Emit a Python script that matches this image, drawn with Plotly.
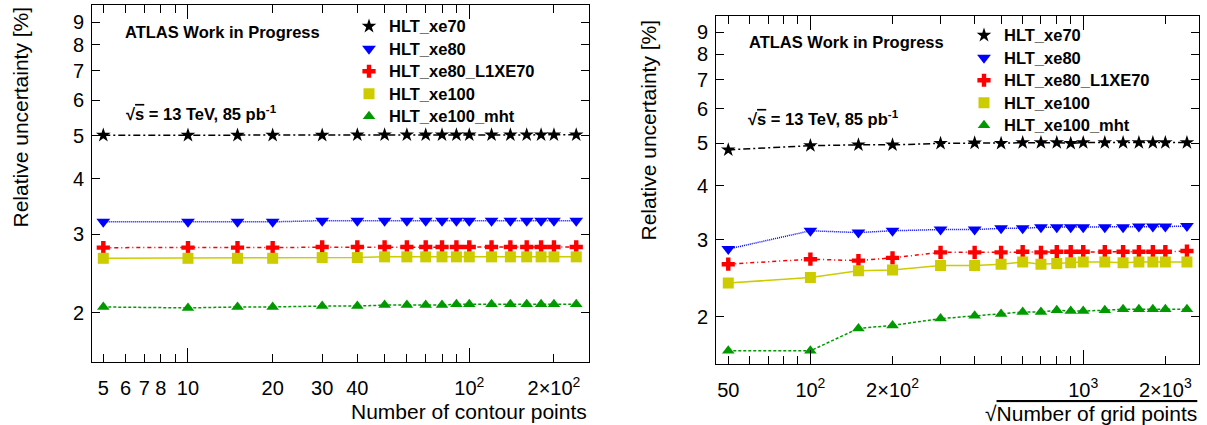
import plotly.graph_objects as go

W, H = 1207, 425
FONT = "Liberation Sans, Arial, Helvetica, sans-serif"

# ---------------- data ----------------
series_names = ["HLT_xe70", "HLT_xe80", "HLT_xe80_L1XE70", "HLT_xe100", "HLT_xe100_mht"]

left_x = [5, 10, 15, 20, 30, 40, 50, 60, 70, 80, 90, 100, 120, 140, 160, 180, 200, 240]
left_xe70 = [5.01, 5.01, 5.01, 5.01, 5.01, 5.02, 5.02, 5.02, 5.02, 5.02, 5.02, 5.02, 5.02, 5.02, 5.02, 5.02, 5.02, 5.02]
left_xe80 = [3.20, 3.20, 3.20, 3.20, 3.22, 3.22, 3.22, 3.22, 3.22, 3.22, 3.22, 3.22, 3.22, 3.22, 3.22, 3.22, 3.22, 3.22]
left_xe80_l1 = [2.80, 2.80, 2.80, 2.80, 2.81, 2.81, 2.81, 2.81, 2.81, 2.81, 2.81, 2.81, 2.81, 2.81, 2.81, 2.81, 2.81, 2.81]
left_xe100 = [2.65, 2.65, 2.65, 2.65, 2.66, 2.66, 2.67, 2.67, 2.67, 2.67, 2.67, 2.67, 2.67, 2.67, 2.67, 2.67, 2.67, 2.67]
left_xe100_mht = [2.06, 2.05, 2.06, 2.06, 2.07, 2.07, 2.08, 2.08, 2.08, 2.08, 2.09, 2.09, 2.09, 2.09, 2.09, 2.09, 2.09, 2.09]

right_x = [50, 100, 150, 200, 300, 400, 500, 600, 700, 800, 900, 1000, 1200, 1400, 1600, 1800, 2000, 2400]
right_xe70 = [4.83, 4.94, 4.96, 4.96, 5.00, 5.01, 5.00, 5.02, 5.02, 5.02, 5.00, 5.02, 5.02, 5.02, 5.02, 5.02, 5.02, 5.02]
right_xe80 = [2.86, 3.15, 3.12, 3.15, 3.17, 3.17, 3.19, 3.19, 3.21, 3.21, 3.21, 3.21, 3.21, 3.21, 3.22, 3.22, 3.22, 3.23]
right_xe80_l1 = [2.64, 2.71, 2.69, 2.73, 2.81, 2.81, 2.81, 2.82, 2.81, 2.82, 2.82, 2.82, 2.82, 2.82, 2.82, 2.82, 2.82, 2.83]
right_xe100 = [2.39, 2.46, 2.55, 2.56, 2.62, 2.62, 2.64, 2.67, 2.64, 2.65, 2.66, 2.67, 2.67, 2.66, 2.67, 2.67, 2.67, 2.67]
right_xe100_mht = [1.67, 1.67, 1.88, 1.91, 1.98, 2.01, 2.03, 2.05, 2.05, 2.07, 2.06, 2.06, 2.07, 2.08, 2.08, 2.08, 2.08, 2.08]

# tick definitions
y_tickvals = [2, 3, 4, 5, 6, 7, 8, 9]
y_ticktext = ["2", "3", "4", "5", "6", "7", "8", "9"]

left_x_tickvals = [5, 6, 7, 8, 10, 20, 30, 40, 100, 200]
left_x_ticktext = ["5", "6", "7", "8", "10", "20", "30", "40", "10<sup>2</sup>", "2×10<sup>2</sup>"]
left_x_minor = [9, 50, 60, 70, 80, 90]
left_x_decades = [10, 100]

right_x_tickvals = [50, 100, 200, 1000, 2000]
right_x_ticktext = ["50", "10<sup>2</sup>", "2×10<sup>2</sup>", "10<sup>3</sup>", "2×10<sup>3</sup>"]
right_x_minor = [60, 70, 80, 90, 300, 400, 500, 600, 700, 800, 900]
right_x_decades = [100, 1000]

# ---------------- styles ----------------
colors = ["#000000", "#0000ff", "#ff0000", "#cccc00", "#009900"]
symbols = ["star", "triangle-down", "cross", "square", "triangle-up"]
msizes = [11, 12, 11, 11, 11]
dashes = ["7px,3px,2px,3px", "1px,1px", "4px,3px,1px,3px", "solid", "3px,2px"]


def px_x(p):
    return p / W


def px_y(p):
    return 1 - p / H


fig = go.Figure()

panels = [
    dict(x=left_x, ys=[left_xe70, left_xe80, left_xe80_l1, left_xe100, left_xe100_mht],
         xa="x", ya="y", legend="legend"),
    dict(x=right_x, ys=[right_xe70, right_xe80, right_xe80_l1, right_xe100, right_xe100_mht],
         xa="x2", ya="y2", legend="legend2"),
]

for pi, p in enumerate(panels):
    for i, ys in enumerate(p["ys"]):
        fig.add_trace(go.Scatter(
            x=p["x"], y=ys, mode="lines", xaxis=p["xa"], yaxis=p["ya"],
            line=dict(color=colors[i], width=1.5, dash=dashes[i]),
            showlegend=False, hoverinfo="skip"))
    for i, ys in enumerate(p["ys"]):
        fig.add_trace(go.Scatter(
            x=p["x"], y=ys, mode="markers", xaxis=p["xa"], yaxis=p["ya"],
            name=f"<span style='font-size:16.5px'>{series_names[i]}</span>",
            legend=p["legend"],
            marker=dict(symbol=symbols[i], size=msizes[i], color=colors[i],
                        line=dict(width=0))))

axis_common = dict(type="log", showline=True, linecolor="black", linewidth=1,
                   mirror="ticks", ticks="inside", tickcolor="black",
                   showgrid=False, zeroline=False,
                   tickfont=dict(family=FONT, size=20, color="black"))

left_dom_x = [px_x(92), px_x(589)]
left_dom_y = [px_y(362), px_y(5)]
right_dom_x = [px_x(716), px_x(1199)]
right_dom_y = [px_y(363.5), px_y(16)]

left_xrange = [0.6588, 2.4256]
right_xrange = [1.654, 3.4244]
left_yrange = [0.1902, 0.9925]
right_yrange = [0.1936, 0.9913]

minor_common = dict(ticks="inside", ticklen=8, tickcolor="black", showgrid=False)
legend_font = dict(family=FONT, size=15, color="black", weight="bold")

fig.update_layout(
    width=W, height=H, margin=dict(l=0, r=0, t=0, b=0),
    paper_bgcolor="white", plot_bgcolor="white",
    font=dict(family=FONT, color="black"),
    xaxis=dict(axis_common, domain=left_dom_x, anchor="y", range=left_xrange,
               tickvals=left_x_tickvals, ticktext=left_x_ticktext, ticklen=8,
               ticklabelstandoff=8, minor=dict(minor_common, tickvals=left_x_minor)),
    yaxis=dict(axis_common, domain=left_dom_y, anchor="x", range=left_yrange,
               tickvals=y_tickvals, ticktext=y_ticktext, ticklen=8,
               ticklabelstandoff=3),
    xaxis2=dict(axis_common, domain=right_dom_x, anchor="y2", range=right_xrange,
                tickvals=right_x_tickvals, ticktext=right_x_ticktext, ticklen=8,
                ticklabelstandoff=8, minor=dict(minor_common, tickvals=right_x_minor)),
    yaxis2=dict(axis_common, domain=right_dom_y, anchor="x2", range=right_yrange,
                tickvals=y_tickvals, ticktext=y_ticktext, ticklen=8,
                ticklabelstandoff=3),
    xaxis3=dict(axis_common, overlaying="x", anchor="y", range=left_xrange,
                tickvals=left_x_decades, ticklen=14, showticklabels=False),
    xaxis4=dict(axis_common, overlaying="x2", anchor="y2", range=right_xrange,
                tickvals=right_x_decades, ticklen=14, showticklabels=False),
    legend=dict(x=px_x(349), y=px_y(10), xanchor="left", yanchor="top",
                bgcolor="rgba(0,0,0,0)", font=legend_font),
    legend2=dict(x=px_x(964), y=px_y(19), xanchor="left", yanchor="top",
                 bgcolor="rgba(0,0,0,0)", font=legend_font),
)

# invisible traces to activate overlay axes that carry the long decade ticks
fig.add_trace(go.Scatter(x=[left_x[0]], y=[left_xe70[0]], xaxis="x3", yaxis="y",
                         mode="markers", marker=dict(opacity=0), showlegend=False, hoverinfo="skip"))
fig.add_trace(go.Scatter(x=[right_x[0]], y=[right_xe70[0]], xaxis="x4", yaxis="y2",
                         mode="markers", marker=dict(opacity=0), showlegend=False, hoverinfo="skip"))

bold16 = dict(family=FONT, size=16.5, color="black", weight="bold")
title21 = dict(family=FONT, size=21, color="black")
sqrt_s = "√<span style='text-decoration:overline'>s</span> = 13 TeV, 85 pb<sup>-1</sup>"

ann = [
    dict(text="ATLAS Work in Progress", x=px_x(123), y=px_y(32), xanchor="left", yanchor="middle", font=bold16),
    dict(text=sqrt_s, x=px_x(124), y=px_y(113), xanchor="left", yanchor="middle", font=bold16),
    dict(text="ATLAS Work in Progress", x=px_x(747), y=px_y(42), xanchor="left", yanchor="middle", font=bold16),
    dict(text=sqrt_s, x=px_x(746), y=px_y(118), xanchor="left", yanchor="middle", font=bold16),
    dict(text="Relative uncertainty [%]", x=px_x(20), y=px_y(5), xanchor="center", yanchor="top",
         textangle=-90, font=title21),
    dict(text="Relative uncertainty [%]", x=px_x(648), y=px_y(18), xanchor="center", yanchor="top",
         textangle=-90, font=title21),
    dict(text="Number of contour points", x=px_x(589), y=px_y(411), xanchor="right", yanchor="middle",
         font=title21),
    dict(text="√<span style='text-decoration:overline'>Number of grid points</span>", x=px_x(1199),
         y=px_y(413), xanchor="right", yanchor="middle", font=title21),
]
for a in ann:
    a.update(xref="paper", yref="paper", showarrow=False)
fig.update_layout(annotations=ann)

fig.write_html("out.html")
